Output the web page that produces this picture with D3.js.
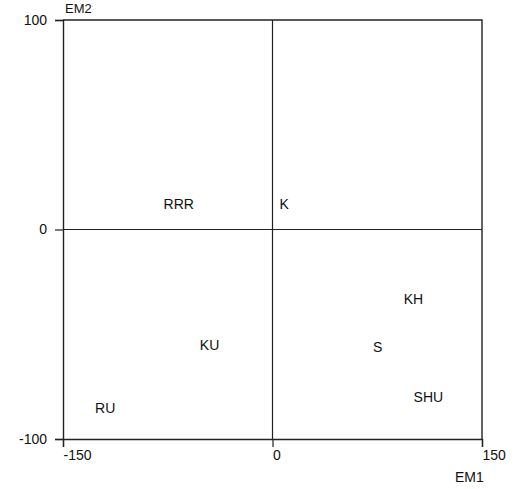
<!DOCTYPE html>
<html>
<head>
<meta charset="utf-8">
<script src="https://cdn.jsdelivr.net/npm/d3@7"></script>
<style>
  body { margin: 0; background: #fff; }
  text { font-family: "Liberation Sans", Arial, sans-serif; fill: #111; }
</style>
</head>
<body>
<svg id="chart"></svg>
<script>
// group labels and their scores on the two axes
var labels = ["RRR", "K", "KH", "S", "SHU", "KU", "RU"];
var em1 = [-78, 5, 94, 72, 101, -52, -127];
var em2 = [12, 12, -33, -56, -80, -55, -85];
var xTicks = [-150, 0, 150];
var yTicks = [-100, 0, 100];

var width = 517, height = 489;
var margin = { top: 20, right: 35, bottom: 50, left: 63 };

var svg = d3.select('#chart')
            .attr('width', width)
            .attr('height', height);

var xScale = d3.scaleLinear()
               .domain([-150, 150])
               .range([margin.left, width - margin.right]);

var yScale = d3.scaleLinear()
                .domain([-100, 100])
                .range([height - margin.bottom, margin.top]);

var line = '#222';
// plain hyphen for negatives, like the original
var fmt = function (d) { return String(d); };

// frame (top and right sides)
svg.append('path')
   .attr('d', 'M' + xScale(-150) + ',' + yScale(100) + 'H' + xScale(150) + 'V' + yScale(-100))
   .attr('fill', 'none')
   .attr('stroke', line)
   .attr('stroke-width', 1.4);

// zero lines
svg.append('line')
   .attr('x1', xScale(-150)).attr('x2', xScale(150))
   .attr('y1', yScale(0)).attr('y2', yScale(0))
   .attr('stroke', line).attr('stroke-width', 1.2);
svg.append('line')
   .attr('x1', xScale(0)).attr('x2', xScale(0))
   .attr('y1', yScale(100)).attr('y2', yScale(-100))
   .attr('stroke', line).attr('stroke-width', 1.2);

var xAxis = d3.axisBottom(xScale).tickValues(xTicks).tickSize(8).tickFormat(fmt);
var yAxis = d3.axisLeft(yScale).tickValues(yTicks).tickSize(8).tickFormat(fmt);

var gx = svg.append('g')
            .attr('transform', 'translate(0,' + yScale(-100) + ')')
            .call(xAxis);
gx.select('.domain').attr('stroke', line).attr('stroke-width', 1.4);
gx.selectAll('.tick line').attr('stroke', line).attr('stroke-width', 1.2);
gx.selectAll('.tick text')
  .attr('text-anchor', 'start')
  .attr('x', 0)
  .attr('y', 11)
  .style('font-size', '14px')
  .style('font-family', '"Liberation Sans", Arial, sans-serif');

var gy = svg.append('g')
            .attr('transform', 'translate(' + xScale(-150) + ',0)')
            .call(yAxis);
gy.select('.domain').attr('stroke', line).attr('stroke-width', 1.4);
gy.selectAll('.tick line').attr('stroke', line).attr('stroke-width', 1.2);
gy.selectAll('.tick text')
  .attr('x', -16)
  .style('font-size', '14px')
  .style('font-family', '"Liberation Sans", Arial, sans-serif');

// axis titles
svg.append('text')
   .attr('x', 455).attr('y', 482)
   .style('font-size', '14px')
   .text('EM1');
svg.append('text')
   .attr('x', 65).attr('y', 13)
   .style('font-size', '13px')
   .text('EM2');

// point labels
svg.selectAll('.pt')
   .data(labels)
   .enter()
   .append('text')
   .attr('class', 'pt')
   .attr('x', function (d, i) { return xScale(em1[i]); })
   .attr('y', function (d, i) { return yScale(em2[i]); })
   .attr('dy', '0.36em')
   .style('font-size', '14px')
   .text(function (d) { return d; });
</script>
</body>
</html>
